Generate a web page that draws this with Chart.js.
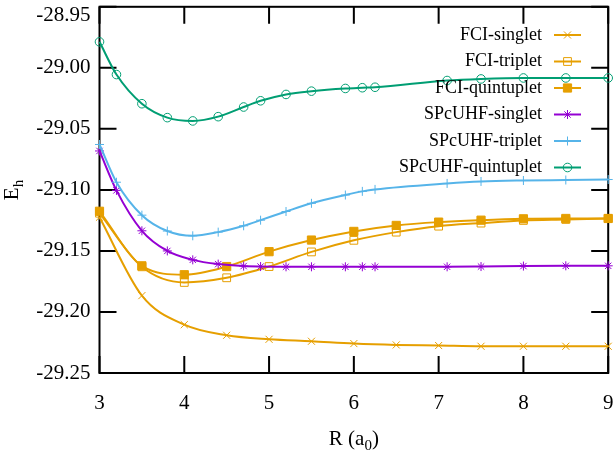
<!DOCTYPE html>
<html>
<head>
<meta charset="utf-8">
<script src="https://cdn.jsdelivr.net/npm/chart.js@4.4.1/dist/chart.umd.min.js"></script>
<style>
  html, body { margin: 0; padding: 0; background: #fff; }
  canvas { display: block; }
</style>
</head>
<body>
<canvas id="stage" width="615" height="454"></canvas>
<script>
// R (a0) grids
const fciR = [3.0, 3.5, 4.0, 4.5, 5.0, 5.5, 6.0, 6.5, 7.0, 7.5, 8.0, 8.5, 9.0];
const spcuhfR = [3.0, 3.2, 3.5, 3.8, 4.1, 4.4, 4.7, 4.9, 5.2, 5.5, 5.9, 6.1, 6.25, 7.1, 7.5, 8.0, 8.5, 9.0];

// energies (Eh)
const fciSinglet = [-29.1224, -29.1866, -29.2104, -29.2191, -29.2224, -29.2240, -29.2259, -29.2270, -29.2275, -29.2281, -29.2281, -29.2281, -29.2281];
const fciTriplet = [-29.1191, -29.1630, -29.1758, -29.1720, -29.1628, -29.1508, -29.1413, -29.1346, -29.1297, -29.1272, -29.1250, -29.1242, -29.1234];
const fciQuintuplet = [-29.1175, -29.1622, -29.1695, -29.1628, -29.1506, -29.1411, -29.1340, -29.1291, -29.1264, -29.1248, -29.1237, -29.1234, -29.1234];
const spcuhfSinglet = [-29.0681, -29.1004, -29.1335, -29.1500, -29.1573, -29.1608, -29.1624, -29.1628, -29.1630, -29.1630, -29.1630, -29.1630, -29.1630, -29.1630, -29.1628, -29.1624, -29.1622, -29.1622];
const spcuhfTriplet = [-29.0628, -29.0937, -29.1207, -29.1337, -29.1376, -29.1346, -29.1294, -29.1248, -29.1177, -29.1110, -29.1042, -29.1012, -29.0996, -29.0947, -29.0931, -29.0923, -29.0919, -29.0915];
const spcuhfQuintuplet = [-28.9787, -29.0055, -29.0294, -29.0408, -29.0435, -29.0400, -29.0321, -29.0270, -29.0218, -29.0191, -29.0169, -29.0163, -29.0159, -29.0104, -29.0091, -29.0083, -29.0083, -29.0083];

// ticks
const xTicks = [3, 4, 5, 6, 7, 8, 9];
const yTicks = [-29.25, -29.20, -29.15, -29.10, -29.05, -29.00, -28.95];
const yTickLabels = ['-29.25', '-29.20', '-29.15', '-29.10', '-29.05', '-29.00', '-28.95'];

const FONT = "'Liberation Serif', 'Times New Roman', serif";
const ORANGE = '#E69F00', PURPLE = '#9400D3', BLUE = '#56B4E9', GREEN = '#009E73';

function series(label, xs, ys, color, pointStyle, radius, filled, order) {
  return {
    label: label,
    data: xs.map((x, i) => ({ x: x, y: ys[i] })),
    borderColor: color,
    backgroundColor: color,
    borderWidth: 2,
    pointStyle: pointStyle,
    pointRadius: radius,
    pointHoverRadius: radius,
    pointBorderWidth: 1,
    pointBorderColor: color,
    pointBackgroundColor: filled ? color : 'rgba(255,255,255,0)',
    cubicInterpolationMode: 'monotone',
    clip: false,
    order: order
  };
}

const datasets = [
  series('FCI-singlet', fciR, fciSinglet, ORANGE, 'crossRot', 5, false, 6),
  series('FCI-triplet', fciR, fciTriplet, ORANGE, 'rect', 5.5, false, 5),
  series('FCI-quintuplet', fciR, fciQuintuplet, ORANGE, 'rect', 5.8, true, 4),
  series('SPcUHF-singlet', spcuhfR, spcuhfSinglet, PURPLE, 'star', 4.5, false, 3),
  series('SPcUHF-triplet', spcuhfR, spcuhfTriplet, BLUE, 'cross', 4.5, false, 2),
  series('SPcUHF-quintuplet', spcuhfR, spcuhfQuintuplet, GREEN, 'circle', 4.3, false, 1)
];

// 枠と内向きの目盛り
const framePlugin = {
  id: 'frame',
  beforeDatasetsDraw(chart) {
    const { ctx, chartArea: a, scales } = chart;
    const tl = 17;
    ctx.save();
    ctx.strokeStyle = '#000';
    ctx.lineWidth = 2;
    xTicks.forEach(v => {
      const px = scales.x.getPixelForValue(v);
      ctx.beginPath();
      ctx.moveTo(px, a.bottom); ctx.lineTo(px, a.bottom - tl);
      ctx.moveTo(px, a.top); ctx.lineTo(px, a.top + tl);
      ctx.stroke();
    });
    yTicks.forEach(v => {
      const py = scales.y.getPixelForValue(v);
      ctx.beginPath();
      ctx.moveTo(a.left, py); ctx.lineTo(a.left + tl, py);
      ctx.moveTo(a.right, py); ctx.lineTo(a.right - tl, py);
      ctx.stroke();
    });
    ctx.strokeRect(a.left, a.top, a.right - a.left, a.bottom - a.top);
    ctx.restore();
  }
};

function drawMarker(ctx, ds, x, y) {
  if (Chart.helpers && Chart.helpers.drawPoint) {
    ctx.fillStyle = ds.pointBackgroundColor;
    ctx.strokeStyle = ds.pointBorderColor;
    ctx.lineWidth = ds.pointBorderWidth;
    Chart.helpers.drawPoint(ctx, { pointStyle: ds.pointStyle, radius: ds.pointRadius, rotation: 0, borderWidth: ds.pointBorderWidth }, x, y);
  }
}

// gnuplot 風の凡例 (文字が左、線見本が右)
const keyPlugin = {
  id: 'key',
  afterDatasetsDraw(chart) {
    const ctx = chart.ctx;
    ctx.save();
    chart.data.datasets.forEach((ds, i) => {
      const y = 35 + i * 26.5;
      ctx.font = '18px ' + FONT;
      ctx.fillStyle = '#000';
      ctx.textAlign = 'right';
      ctx.textBaseline = 'middle';
      ctx.fillText(ds.label, 542, y);
      ctx.strokeStyle = ds.borderColor;
      ctx.lineWidth = 2;
      ctx.beginPath();
      ctx.moveTo(554, y); ctx.lineTo(581, y);
      ctx.stroke();
      drawMarker(ctx, ds, 567.5, y);
    });
    ctx.restore();
  }
};

// 下付き文字つきの軸ラベル
const titlePlugin = {
  id: 'titles',
  afterDraw(chart) {
    const { ctx, chartArea: a } = chart;
    ctx.save();
    ctx.fillStyle = '#000';
    ctx.textBaseline = 'alphabetic';
    ctx.textAlign = 'left';
    // x: R (a0)
    const big = '21px ' + FONT, small = '15px ' + FONT;
    ctx.font = big;
    const w1 = ctx.measureText('R (a').width;
    const w3 = ctx.measureText(')').width;
    ctx.font = small;
    const w2 = ctx.measureText('0').width;
    let x = (a.left + a.right) / 2 - (w1 + w2 + w3) / 2;
    const yb = 445;
    ctx.font = big; ctx.fillText('R (a', x, yb);
    ctx.font = small; ctx.fillText('0', x + w1, yb + 5);
    ctx.font = big; ctx.fillText(')', x + w1 + w2, yb);
    // y: Eh
    ctx.translate(18, 190);
    ctx.rotate(-Math.PI / 2);
    ctx.font = big;
    const we = ctx.measureText('E').width;
    ctx.font = small;
    const wh = ctx.measureText('h').width;
    const x0 = -(we + wh) / 2;
    ctx.font = big; ctx.fillText('E', x0, 0);
    ctx.font = small; ctx.fillText('h', x0 + we, 5);
    ctx.restore();
  }
};

new Chart(document.getElementById('stage'), {
  type: 'line',
  data: { datasets: datasets },
  options: {
    responsive: false,
    animation: false,
    events: [],
    layout: { padding: { top: 4, right: 5, left: 0, bottom: 0 } },
    plugins: { legend: { display: false }, tooltip: { enabled: false } },
    scales: {
      x: {
        type: 'linear',
        min: 3, max: 9,
        afterBuildTicks: axis => { axis.ticks = xTicks.map(v => ({ value: v })); },
        afterFit: s => { s.height = 81; s.paddingLeft = 0; s.paddingRight = 0; },
        grid: { display: false, drawTicks: false },
        border: { display: false },
        ticks: { font: { family: FONT, size: 21 }, color: '#000', padding: 18, maxRotation: 0 }
      },
      y: {
        type: 'linear',
        min: -29.25, max: -28.95,
        afterBuildTicks: axis => { axis.ticks = yTicks.map(v => ({ value: v })); },
        afterFit: s => { s.width = 99.5; s.paddingTop = 0; s.paddingBottom = 0; },
        grid: { display: false, drawTicks: false },
        border: { display: false },
        ticks: {
          color: '#000',
          padding: 9,
          // 最上段のラベルは枠の内側に寄せる
          font: ctx => ({ family: FONT, size: 21, lineHeight: ctx.index === yTicks.length - 1 ? 0.857 : 1.2 }),
          callback: (v, i) => i === yTicks.length - 1 ? ['', yTickLabels[i]] : yTickLabels[i]
        }
      }
    }
  },
  plugins: [framePlugin, keyPlugin, titlePlugin]
});
</script>
</body>
</html>
